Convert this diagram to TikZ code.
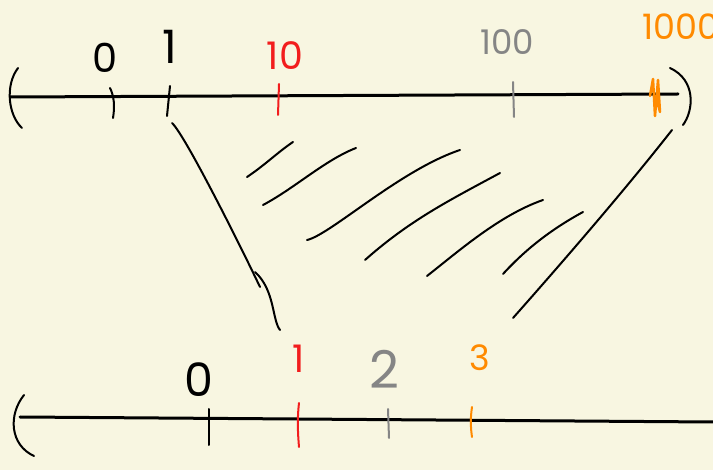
\documentclass[tikz,border=0pt]{standalone}
\usepackage{fontspec}
\setmainfont{Poppins}
\definecolor{bg}{HTML}{F8F6E1}
\definecolor{sred}{HTML}{F21D1D}
\definecolor{sgray}{HTML}{858585}
\definecolor{sorange}{HTML}{FF8A00}
\begin{document}
\begin{tikzpicture}[x=1pt,y=-1pt,line cap=round,line join=round,
  axis/.style={line width=3pt},
  tickmark/.style={line width=2pt},
  stroke/.style={line width=2pt},
  lbl/.style={inner sep=0pt,font=\fontsize{#1}{#1}\selectfont},
  lbl/.default=30]
\fill[bg] (0,0) rectangle (713,470);
\useasboundingbox (0,0) rectangle (713,470);

% ---------- top number line ----------
\draw[axis] (10,97) -- (678,94);
\draw[stroke] (18,68) .. controls (5,85) and (8,115) .. (22,128);
\draw[stroke] (670,68) .. controls (696,80) and (694,110) .. (683,125);

\draw[tickmark] (110,88) .. controls (114,96) and (115,106) .. (113,118);
\draw[tickmark] (170,86) -- (167,116);
\draw[tickmark,sred] (279,84) -- (278,115);
\draw[tickmark,sgray] (513,82) -- (514,117);
\draw[sorange,line width=2.5pt] (650,96) -- (653,79) -- (655,116) -- (658,80) -- (660,112) -- (657,100);

\node[lbl=40] (a0) at (105,58) {0};
\node[lbl=46] (a1) at (170,47) {1};
\node[lbl=38] (a10) [text=sred] at (285,56) {10};
\node[lbl=34] (a100) [text=sgray] at (507,42) {100};
\node[lbl=35,anchor=west] (a1000) [text=sorange] at (642,27) {1000};

% ---------- connector lines and hatching ----------
\draw[stroke] (172,123) .. controls (185,135) and (240,245) .. (260,287);
\draw[stroke] (255,272) .. controls (275,290) and (272,320) .. (280,330);
\draw[stroke] (672,130) .. controls (625,190) and (560,265) .. (513,318);

\draw[stroke] (247,177) .. controls (265,165) and (278,152) .. (293,142);
\draw[stroke] (263,205) .. controls (295,188) and (325,160) .. (356,148);
\draw[stroke] (307,240) .. controls (330,235) and (400,170) .. (460,150);
\draw[stroke] (365,260) .. controls (410,220) and (450,200) .. (500,173);
\draw[stroke] (427,276) .. controls (460,250) and (500,215) .. (543,200);
\draw[stroke] (503,274) .. controls (525,250) and (550,230) .. (583,212);

% ---------- bottom number line ----------
\draw[axis] (20,417) -- (713,422);
\draw[stroke] (24,395) .. controls (8,415) and (10,445) .. (34,456);

\draw[tickmark] (209,409) -- (209,445);
\draw[tickmark,sred] (299,403) .. controls (297,420) and (298,435) .. (299,447);
\draw[tickmark,sgray] (388,409) -- (389,438);
\draw[tickmark,sorange] (472,407) .. controls (470,420) and (471,430) .. (472,437);

\node[lbl=46] (b0) at (199,380) {0};
\node[lbl=38] (b1) [text=sred] at (299,359) {1};
\node[lbl=52] (b2) [text=sgray] at (384,369) {2};
\node[lbl=35] (b3) [text=sorange] at (480,358) {3};
\end{tikzpicture}
\end{document}
